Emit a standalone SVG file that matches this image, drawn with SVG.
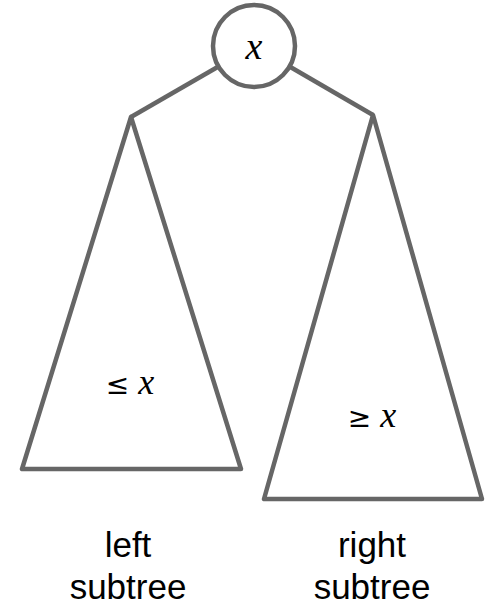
<svg xmlns="http://www.w3.org/2000/svg" width="487" height="605" viewBox="0 0 487 605">
<style>
.shape{fill:none;stroke:#666666;stroke-width:4.5;stroke-linejoin:round}
.lbl{font-family:"Liberation Sans",Arial,sans-serif;font-size:35px;fill:#000;text-anchor:middle}
.math{font-family:"Liberation Serif","DejaVu Serif",serif;font-style:italic;fill:#000}
.rel{font-family:"DejaVu Sans","Liberation Sans",sans-serif;font-size:28px;fill:#000}
</style>
<rect width="487" height="605" fill="#ffffff"/>
<g id="connectors">
<line class="shape" x1="218.5" y1="66.5" x2="131" y2="117"/>
<line class="shape" x1="289.5" y1="66.5" x2="373" y2="115"/>
</g>
<g id="root">
<circle class="shape" cx="254" cy="46" r="41"/>
<text class="math" x="254" y="59" font-size="38" text-anchor="middle">x</text>
</g>
<g id="left-subtree">
<polygon class="shape" points="131,117 22,469 241,469"/>
<text x="130" y="394" text-anchor="middle"><tspan class="rel">≤ </tspan><tspan class="math" font-size="36">x</tspan></text>
<text class="lbl" x="128" y="557">left</text>
<text class="lbl" x="128" y="599">subtree</text>
</g>
<g id="right-subtree">
<polygon class="shape" points="373,115 264,499 482,499"/>
<text x="372" y="427" text-anchor="middle"><tspan class="rel">≥ </tspan><tspan class="math" font-size="36">x</tspan></text>
<text class="lbl" x="372" y="557">right</text>
<text class="lbl" x="372" y="599">subtree</text>
</g>
</svg>
